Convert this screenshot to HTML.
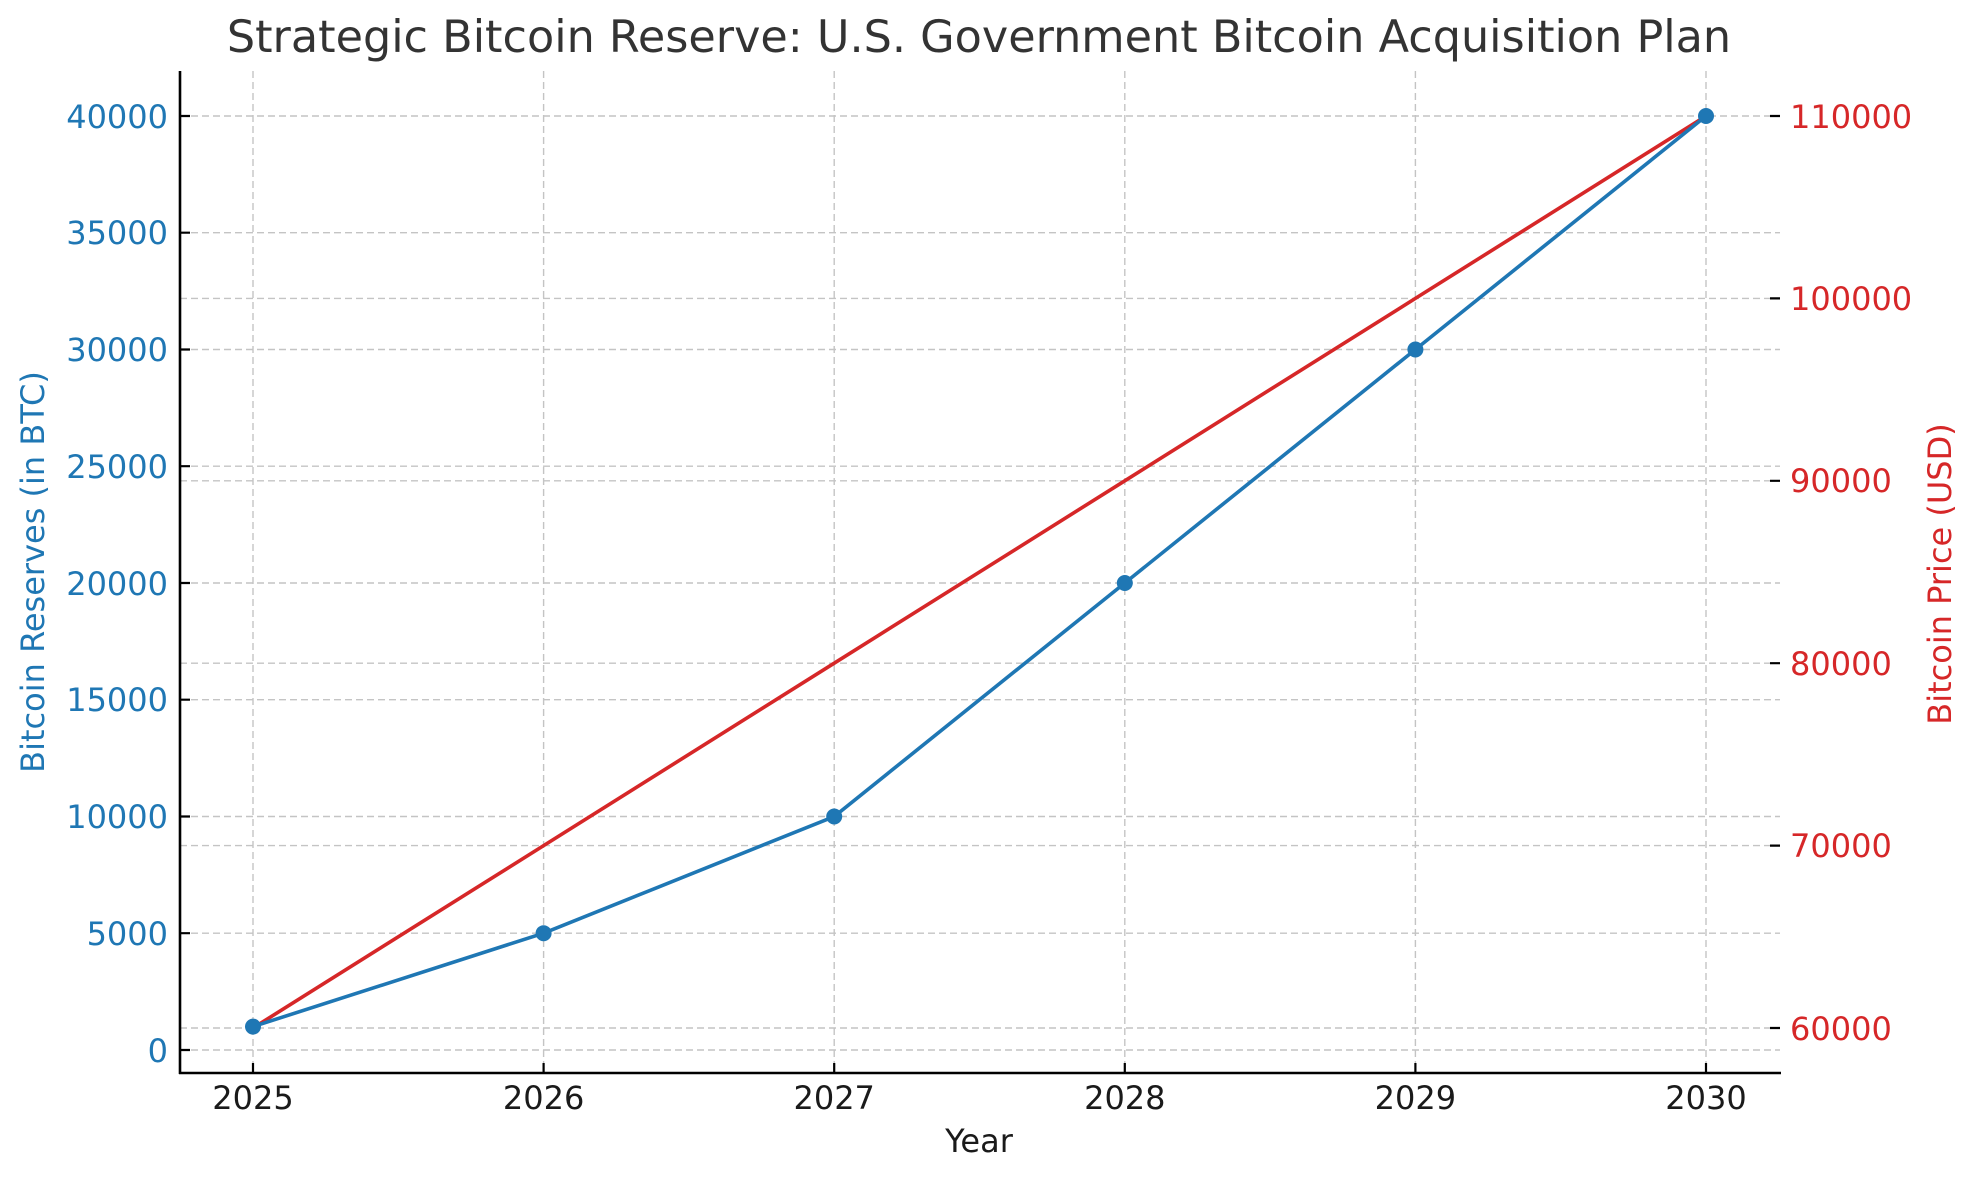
<!DOCTYPE html>
<html><head><meta charset="utf-8"><style>
html,body{margin:0;padding:0;background:#fff;}
svg{display:block;font-family:"DejaVu Sans","Liberation Sans",sans-serif;}
</style></head><body>
<svg width="1979" height="1180" viewBox="0 0 1979 1180" xmlns="http://www.w3.org/2000/svg">
<rect width="1979" height="1180" fill="#fff"/>
<g stroke="#c4c4c4" stroke-width="1.4" stroke-dasharray="7,4" fill="none">
  <line x1="253" y1="71" x2="253" y2="1073"/>
  <line x1="543.6" y1="71" x2="543.6" y2="1073"/>
  <line x1="834.2" y1="71" x2="834.2" y2="1073"/>
  <line x1="1124.8" y1="71" x2="1124.8" y2="1073"/>
  <line x1="1415.4" y1="71" x2="1415.4" y2="1073"/>
  <line x1="1706" y1="71" x2="1706" y2="1073"/>
  <line x1="180" y1="1050" x2="1780" y2="1050"/>
  <line x1="180" y1="933.2" x2="1780" y2="933.2"/>
  <line x1="180" y1="816.5" x2="1780" y2="816.5"/>
  <line x1="180" y1="699.7" x2="1780" y2="699.7"/>
  <line x1="180" y1="583" x2="1780" y2="583"/>
  <line x1="180" y1="466.2" x2="1780" y2="466.2"/>
  <line x1="180" y1="349.5" x2="1780" y2="349.5"/>
  <line x1="180" y1="232.7" x2="1780" y2="232.7"/>
  <line x1="180" y1="116" x2="1780" y2="116"/>
  <line x1="180" y1="1028" x2="1780" y2="1028"/>
  <line x1="180" y1="845.6" x2="1780" y2="845.6"/>
  <line x1="180" y1="663.2" x2="1780" y2="663.2"/>
  <line x1="180" y1="480.8" x2="1780" y2="480.8"/>
  <line x1="180" y1="298.4" x2="1780" y2="298.4"/>
</g>
<line x1="180" y1="71" x2="180" y2="1074" stroke="#000" stroke-width="2.6"/>
<line x1="179" y1="1073" x2="1781" y2="1073" stroke="#000" stroke-width="2.6"/>
<g stroke="#000" stroke-width="2.2">
  <path d="M180 1050h10M180 933.2h10M180 816.5h10M180 699.7h10M180 583h10M180 466.2h10M180 349.5h10M180 232.7h10M180 116h10"/>
  <path d="M1780 1028h-10M1780 845.6h-10M1780 663.2h-10M1780 480.8h-10M1780 298.4h-10M1780 116h-10"/>
  <path d="M253 1073v-10M543.6 1073v-10M834.2 1073v-10M1124.8 1073v-10M1415.4 1073v-10M1706 1073v-10"/>
</g>
<polyline points="253,1028 543.6,845.6 834.2,663.2 1124.8,480.8 1415.4,298.4 1706,116" fill="none" stroke="#d62728" stroke-width="3.6"/>
<polyline points="253,1026.6 543.6,933.2 834.2,816.5 1124.8,583 1415.4,349.5 1706,116" fill="none" stroke="#1f77b4" stroke-width="3.6"/>
<g fill="#1f77b4">
  <circle cx="253" cy="1026.6" r="8"/><circle cx="543.6" cy="933.2" r="8"/><circle cx="834.2" cy="816.5" r="8"/>
  <circle cx="1124.8" cy="583" r="8"/><circle cx="1415.4" cy="349.5" r="8"/><circle cx="1706" cy="116" r="8"/>
</g>
<g fill="#1f77b4" font-size="32" text-anchor="end">
  <text x="168" y="1062">0</text>
  <text x="168" y="945">5000</text>
  <text x="168" y="828">10000</text>
  <text x="168" y="711">15000</text>
  <text x="168" y="595">20000</text>
  <text x="168" y="478">25000</text>
  <text x="168" y="361">30000</text>
  <text x="168" y="244">35000</text>
  <text x="168" y="128">40000</text>
</g>
<g fill="#d62728" font-size="32" text-anchor="start">
  <text x="1790" y="1040">60000</text>
  <text x="1790" y="857">70000</text>
  <text x="1790" y="675">80000</text>
  <text x="1790" y="492">90000</text>
  <text x="1790" y="310">100000</text>
  <text x="1790" y="128">110000</text>
</g>
<g fill="#1a1a1a" font-size="32" text-anchor="middle">
  <text x="253" y="1109">2025</text>
  <text x="543.6" y="1109">2026</text>
  <text x="834.2" y="1109">2027</text>
  <text x="1124.8" y="1109">2028</text>
  <text x="1415.4" y="1109">2029</text>
  <text x="1706" y="1109">2030</text>
  <text x="979" y="1152">Year</text>
</g>
<text x="979" y="52" font-size="44.5" fill="#333" text-anchor="middle">Strategic Bitcoin Reserve: U.S. Government Bitcoin Acquisition Plan</text>
<text transform="translate(44,572) rotate(-90)" font-size="32" fill="#1f77b4" text-anchor="middle">Bitcoin Reserves (in BTC)</text>
<text transform="translate(1951,574) rotate(-90)" font-size="32" fill="#d62728" text-anchor="middle">Bitcoin Price (USD)</text>
</svg>
</body></html>
